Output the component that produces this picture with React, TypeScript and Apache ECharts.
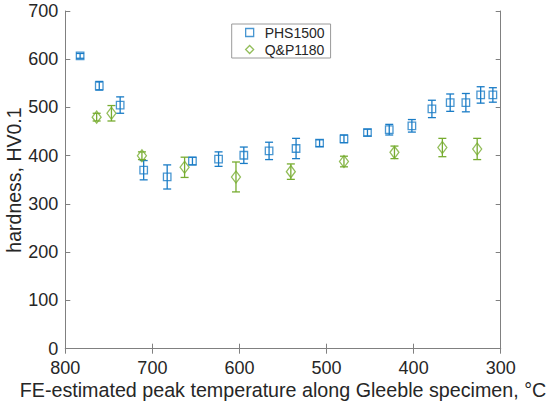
import React, { useEffect, useRef } from "react";
import * as echarts from "echarts";

const phsTemp = [783, 761, 737, 710, 683, 654, 624, 595, 566, 535, 508, 480, 453, 428, 402, 379, 358, 340, 323, 309];
const phsHV = [607, 545, 505, 370, 356, 389, 393, 401, 410, 415, 426, 435, 448, 454, 462, 497, 510, 510, 526, 526];
const phsErr = [5, 9, 17, 20, 25, 8, 15, 17, 18, 21, 7, 8, 7, 11, 13, 18, 18, 19, 17, 15];

const qpTemp = [764, 747, 712, 663, 604, 541, 480, 422, 367, 327];
const qpHV = [480, 488, 400, 376, 356, 367, 388, 407, 417, 414];
const qpErr = [8, 16, 8, 21, 31, 16, 11, 13, 19, 22];

const seriesNames = ["PHS1500", "Q&P1180"];
const xTitle = "FE-estimated peak temperature along Gleeble specimen, °C";
const yTitle = "hardness, HV0.1";

const BLUE = "#1a7cc6";
const GREEN = "#77ac30";
const AXIS = "#808080";
const TEXT = "#262626";
const FONT = "Liberation Sans, Arial, Helvetica, sans-serif";

function errBars(color: string) {
  return (params: any, api: any) => {
    const x = api.value(0);
    const y = api.value(1);
    const e = api.value(2);
    const top = api.coord([x, y + e]);
    const bot = api.coord([x, y - e]);
    const hw = 4;
    const style = { stroke: color, lineWidth: 1.3 };
    return {
      type: "group",
      children: [
        { type: "line", shape: { x1: top[0], y1: top[1], x2: bot[0], y2: bot[1] }, style },
        { type: "line", shape: { x1: top[0] - hw, y1: top[1], x2: top[0] + hw, y2: top[1] }, style },
        { type: "line", shape: { x1: bot[0] - hw, y1: bot[1], x2: bot[0] + hw, y2: bot[1] }, style },
      ],
    };
  };
}

export default function App() {
  const ref = useRef<HTMLDivElement>(null);
  useEffect(() => {
    if (!ref.current) return;
    const chart = echarts.init(ref.current, undefined, { renderer: "svg" });
    const phsPts = phsTemp.map((t, i) => [t, phsHV[i]]);
    const qpPts = qpTemp.map((t, i) => [t, qpHV[i]]);
    const phsErrPts = phsTemp.map((t, i) => [t, phsHV[i], phsErr[i]]);
    const qpErrPts = qpTemp.map((t, i) => [t, qpHV[i], qpErr[i]]);
    const axisCommon = {
      axisLine: { show: true, lineStyle: { color: AXIS, width: 1 } },
      axisTick: { show: true, inside: true, length: 5, lineStyle: { color: AXIS, width: 1 } },
      splitLine: { show: false },
    };
    chart.setOption({
      animation: false,
      backgroundColor: "#ffffff",
      grid: { left: 65.3, right: 49.3, top: 11, bottom: 55.3, containLabel: false },
      xAxis: [
        {
          type: "value",
          min: 300,
          max: 800,
          interval: 100,
          inverse: true,
          position: "bottom",
          ...axisCommon,
          axisLabel: { show: true, fontSize: 18, lineHeight: 14, color: TEXT, margin: 12, fontFamily: FONT },
        },
        {
          type: "value",
          min: 300,
          max: 800,
          interval: 100,
          inverse: true,
          position: "top",
          ...axisCommon,
          axisLabel: { show: false },
        },
      ],
      yAxis: [
        {
          type: "value",
          min: 0,
          max: 700,
          interval: 100,
          position: "left",
          ...axisCommon,
          axisLabel: { show: true, fontSize: 18, lineHeight: 14, color: TEXT, margin: 7, fontFamily: FONT },
        },
        {
          type: "value",
          min: 0,
          max: 700,
          interval: 100,
          position: "right",
          ...axisCommon,
          axisLabel: { show: false },
        },
      ],
      legend: {
        orient: "vertical",
        left: 231.7,
        top: 24,
        padding: [0, 6, 0, 13.3],
        itemWidth: 8,
        itemHeight: 8,
        itemGap: 0,
        backgroundColor: "#ffffff",
        borderColor: "#9a9a9a",
        borderWidth: 1,
        borderRadius: 0,
        textStyle: { fontSize: 14, color: TEXT, fontFamily: FONT, lineHeight: 17, padding: [0, 0, 0, 6] },
        data: [
          { name: seriesNames[0], icon: "rect", itemStyle: { color: "transparent", borderColor: BLUE, borderWidth: 1.3 } },
          { name: seriesNames[1], icon: "diamond", itemStyle: { color: "transparent", borderColor: GREEN, borderWidth: 1.3 } },
        ],
      },
      graphic: [
        {
          type: "text",
          x: 283,
          y: 389.5,
          style: { text: xTitle, fontSize: 19.7, fill: TEXT, fontFamily: FONT, align: "center", verticalAlign: "middle" },
        },
        {
          type: "text",
          x: 14,
          y: 180,
          rotation: Math.PI / 2,
          style: { text: yTitle, fontSize: 19.5, fill: TEXT, fontFamily: FONT, align: "center", verticalAlign: "middle" },
        },
      ],
      series: [
        {
          name: seriesNames[0] + " error",
          type: "custom",
          renderItem: errBars(BLUE),
          encode: { x: 0, y: 1 },
          data: phsErrPts,
          z: 2,
        },
        {
          name: seriesNames[1] + " error",
          type: "custom",
          renderItem: errBars(GREEN),
          encode: { x: 0, y: 1 },
          data: qpErrPts,
          z: 2,
        },
        {
          name: seriesNames[0],
          type: "scatter",
          symbol: "rect",
          symbolSize: 7.5,
          data: phsPts,
          itemStyle: { color: "transparent", borderColor: BLUE, borderWidth: 1.3 },
          z: 3,
        },
        {
          name: seriesNames[1],
          type: "scatter",
          symbol: "diamond",
          symbolSize: [9, 12],
          data: qpPts,
          itemStyle: { color: "transparent", borderColor: GREEN, borderWidth: 1.3 },
          z: 3,
        },
      ],
    });
    return () => chart.dispose();
  }, []);
  return (
    <div
      ref={ref}
      style={{ position: "fixed", left: 0, top: 0, width: 550, height: 404, background: "#fff" }}
    />
  );
}
